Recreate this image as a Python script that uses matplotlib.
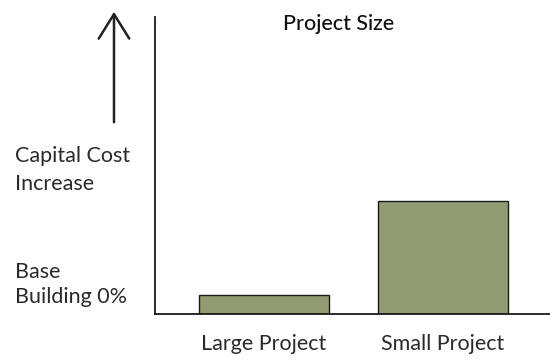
import matplotlib
matplotlib.use("Agg")
import matplotlib.pyplot as plt

plt.rcParams['font.family'] = ['Lato', 'DejaVu Sans']

categories = ["Large Project", "Small Project"]
cost_increase = [6.5, 38.0]
title = "Project Size"
upper_label = "Capital Cost\nIncrease"
lower_label = "Base\nBuilding 0%"

fig = plt.figure(figsize=(5.5, 3.6), dpi=100)
ax = fig.add_axes([155 / 550, 1 - 314 / 360, 1 - 155 / 550, (314 - 17) / 360])

x = list(range(len(categories)))
ax.bar(x, cost_increase, width=0.73, color="#8f9c71", edgecolor="#1a1a1a", linewidth=1.0)
ax.set_xlim(-0.609, 1.598)
ax.set_ylim(0, 100)
ax.set_xticks(x)
ax.set_xticklabels(categories, fontsize=15.5, color="#2a2a2a")
ax.tick_params(axis="x", length=0, pad=14.5)
ax.set_yticks([])
for side in ("top", "right"):
    ax.spines[side].set_visible(False)
for side in ("left", "bottom"):
    ax.spines[side].set_linewidth(1.3)
    ax.spines[side].set_color("#1a1a1a")

fig.text(339 / 550, 1 - 23.5 / 360, title, ha="center", va="center", fontsize=15.5,
         fontweight="medium", color="#111111")
fig.text(15 / 550, 1 - 170 / 360, upper_label, ha="left", va="center", fontsize=15.5,
         color="#2a2a2a", linespacing=1.5)
fig.text(15 / 550, 1 - 284.5 / 360, lower_label, ha="left", va="center", fontsize=15.5,
         color="#2a2a2a", linespacing=1.35)

# upward arrow with an open head
fig.add_artist(matplotlib.patches.FancyArrowPatch(
    (114 / 550, 1 - 125 / 360), (114 / 550, 1 - 9 / 360), transform=fig.transFigure,
    arrowstyle="->,head_length=8,head_width=5", mutation_scale=2.2, color="#222222", linewidth=1.8))

fig.savefig("out.png", dpi=100)
